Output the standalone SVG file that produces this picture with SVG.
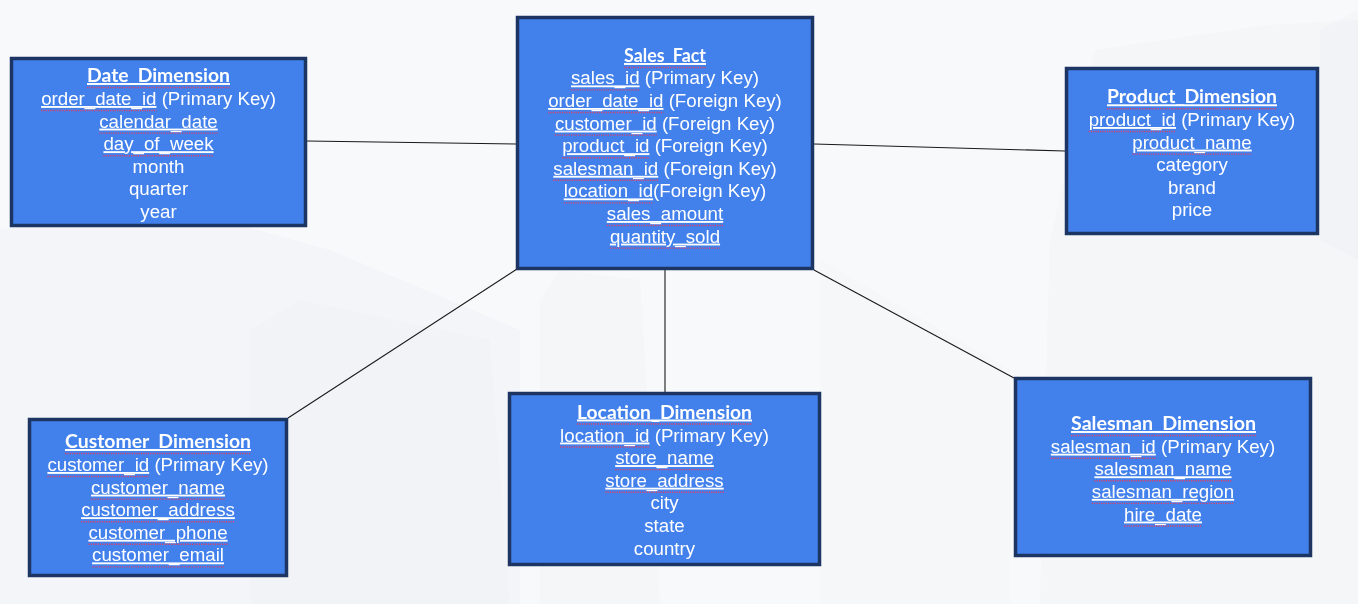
<svg xmlns="http://www.w3.org/2000/svg" width="1358" height="604" viewBox="0 0 1358 604">
  <style>
    .box { fill: #4281EC; stroke: #1C3563; stroke-width: 3.5; }
    .t { font-family: "Liberation Sans", Arial, sans-serif; font-size: 18.7px; fill: #FFFFFF; text-anchor: middle; }
    .h { font-family: Lato, "Liberation Sans", sans-serif; font-weight: bold; font-size: 19.5px; fill: #FFFFFF; text-anchor: middle; text-decoration: underline; }
    .u { text-decoration: underline; }
    .sq { stroke: #D8436C; stroke-width: 1.4; stroke-dasharray: 1.2 1.1; fill: none; }
    .conn { stroke: #1A1A1A; stroke-width: 1.1; fill: none; }
    .bg { fill: #E9ECF0; }
  </style>
  <rect width="1358" height="604" fill="#F8F9FB"/>
  <g id="background" opacity="0.5">
    <polygon class="bg" points="0,230 150,200 330,250 520,330 520,604 0,604" opacity="0.5"/>
    <polygon class="bg" points="250,330 300,300 490,340 510,604 250,604" opacity="0.6"/>
    <polygon class="bg" points="540,300 560,270 640,280 660,604 540,604" opacity="0.4"/>
    <polygon class="bg" points="1095,50 1270,25 1358,20 1358,604 1040,604 1050,240" opacity="0.6"/>
    <polygon class="bg" points="820,260 1010,370 1010,604 820,604" opacity="0.3"/>
    <polygon class="bg" points="1320,30 1358,10 1358,260 1320,240" opacity="0.6"/>
  </g>
  <g id="connectors">
    <line class="conn" x1="307" y1="141" x2="516" y2="144"/>
    <line class="conn" x1="814" y1="144" x2="1065" y2="151"/>
    <line class="conn" x1="288" y1="418" x2="517" y2="269"/>
    <line class="conn" x1="665" y1="270" x2="665" y2="392"/>
    <line class="conn" x1="814" y1="270" x2="1014" y2="378"/>
  </g>
  <g id="sales_fact">
    <rect class="box" x="517.5" y="17.5" width="295" height="251"/>
    <text class="h" x="665" y="62" textLength="82" lengthAdjust="spacingAndGlyphs">Sales_Fact</text>
    <text class="t" x="665" y="84.4"><tspan class="u">sales_id</tspan> (Primary Key)</text>
    <text class="t" x="665" y="107"><tspan class="u">order_date_id</tspan> (Foreign Key)</text>
    <text class="t" x="665" y="129.6"><tspan class="u">customer_id</tspan> (Foreign Key)</text>
    <text class="t" x="665" y="152.2"><tspan class="u">product_id</tspan> (Foreign Key)</text>
    <text class="t" x="665" y="174.8"><tspan class="u">salesman_id</tspan> (Foreign Key)</text>
    <text class="t" x="665" y="197.4"><tspan class="u">location_id</tspan>(Foreign Key)</text>
    <text class="t u" x="665" y="220">sales_amount</text>
    <text class="t u" x="665" y="242.6">quantity_sold</text>
    <path class="sq" d="M624 67.5H706M571 89.9H639.6M548.1 112.5H663.5M554.9 135.1H656.7M562.1 157.7H649.4M553.3 180.3H658.3M563.7 202.9H653.1M606.8 225.5H723.2M609.9 248.1H720.1"/>
  </g>
  <g id="date_dimension">
    <rect class="box" x="11.5" y="58.5" width="294" height="167"/>
    <text class="h" x="158.5" y="82" textLength="143" lengthAdjust="spacingAndGlyphs">Date_Dimension</text>
    <text class="t" x="158.5" y="105"><tspan class="u">order_date_id</tspan> (Primary Key)</text>
    <text class="t u" x="158.5" y="127.6">calendar_date</text>
    <text class="t u" x="158.5" y="150.2">day_of_week</text>
    <text class="t" x="158.5" y="172.8">month</text>
    <text class="t" x="158.5" y="195.4">quarter</text>
    <text class="t" x="158.5" y="218">year</text>
    <path class="sq" d="M87 87.5H230M41.1 110.5H156.5M99.2 133.1H217.8M103.4 155.7H213.6"/>
  </g>
  <g id="product_dimension">
    <rect class="box" x="1066.5" y="68.5" width="251" height="165"/>
    <text class="h" x="1192" y="103.3" textLength="170" lengthAdjust="spacingAndGlyphs">Product_Dimension</text>
    <text class="t" x="1192" y="126"><tspan class="u">product_id</tspan> (Primary Key)</text>
    <text class="t u" x="1192" y="148.6">product_name</text>
    <text class="t" x="1192" y="171.2">category</text>
    <text class="t" x="1192" y="193.8">brand</text>
    <text class="t" x="1192" y="216.4">price</text>
    <path class="sq" d="M1107 108.8H1277M1088.6 131.5H1175.9M1132.3 154.1H1251.8"/>
  </g>
  <g id="customer_dimension">
    <rect class="box" x="29.5" y="419.5" width="257" height="156"/>
    <text class="h" x="158" y="448" textLength="186" lengthAdjust="spacingAndGlyphs">Customer_Dimension</text>
    <text class="t" x="158" y="471"><tspan class="u">customer_id</tspan> (Primary Key)</text>
    <text class="t u" x="158" y="493.6">customer_name</text>
    <text class="t u" x="158" y="516.2">customer_address</text>
    <text class="t u" x="158" y="538.8">customer_phone</text>
    <text class="t u" x="158" y="561.4">customer_email</text>
    <path class="sq" d="M65 453.5H251M47.4 476.5H149.2M91 499.1H225.1M81.1 521.7H234.9M88.4 544.3H227.7M92 566.9H224"/>
  </g>
  <g id="location_dimension">
    <rect class="box" x="509.5" y="393.5" width="310" height="171"/>
    <text class="h" x="664.5" y="418.5" textLength="175" lengthAdjust="spacingAndGlyphs">Location_Dimension</text>
    <text class="t" x="664.5" y="441.5"><tspan class="u">location_id</tspan> (Primary Key)</text>
    <text class="t u" x="664.5" y="464.1">store_name</text>
    <text class="t u" x="664.5" y="486.7">store_address</text>
    <text class="t" x="664.5" y="509.3">city</text>
    <text class="t" x="664.5" y="531.9">state</text>
    <text class="t" x="664.5" y="554.5">country</text>
    <path class="sq" d="M577 424H752M560.1 447H649.5M615.2 469.6H713.9M605.3 492.2H723.8"/>
  </g>
  <g id="salesman_dimension">
    <rect class="box" x="1015.5" y="378.5" width="295" height="177"/>
    <text class="h" x="1163.5" y="430" textLength="185" lengthAdjust="spacingAndGlyphs">Salesman_Dimension</text>
    <text class="t" x="1163" y="452.7"><tspan class="u">salesman_id</tspan> (Primary Key)</text>
    <text class="t u" x="1163" y="475.3">salesman_name</text>
    <text class="t u" x="1163" y="497.9">salesman_region</text>
    <text class="t u" x="1163" y="520.5">hire_date</text>
    <path class="sq" d="M1071 435.5H1256M1050.8 458.2H1155.8M1094.4 480.8H1231.6M1091.8 503.4H1234.2M1124 526H1202"/>
  </g>
</svg>
